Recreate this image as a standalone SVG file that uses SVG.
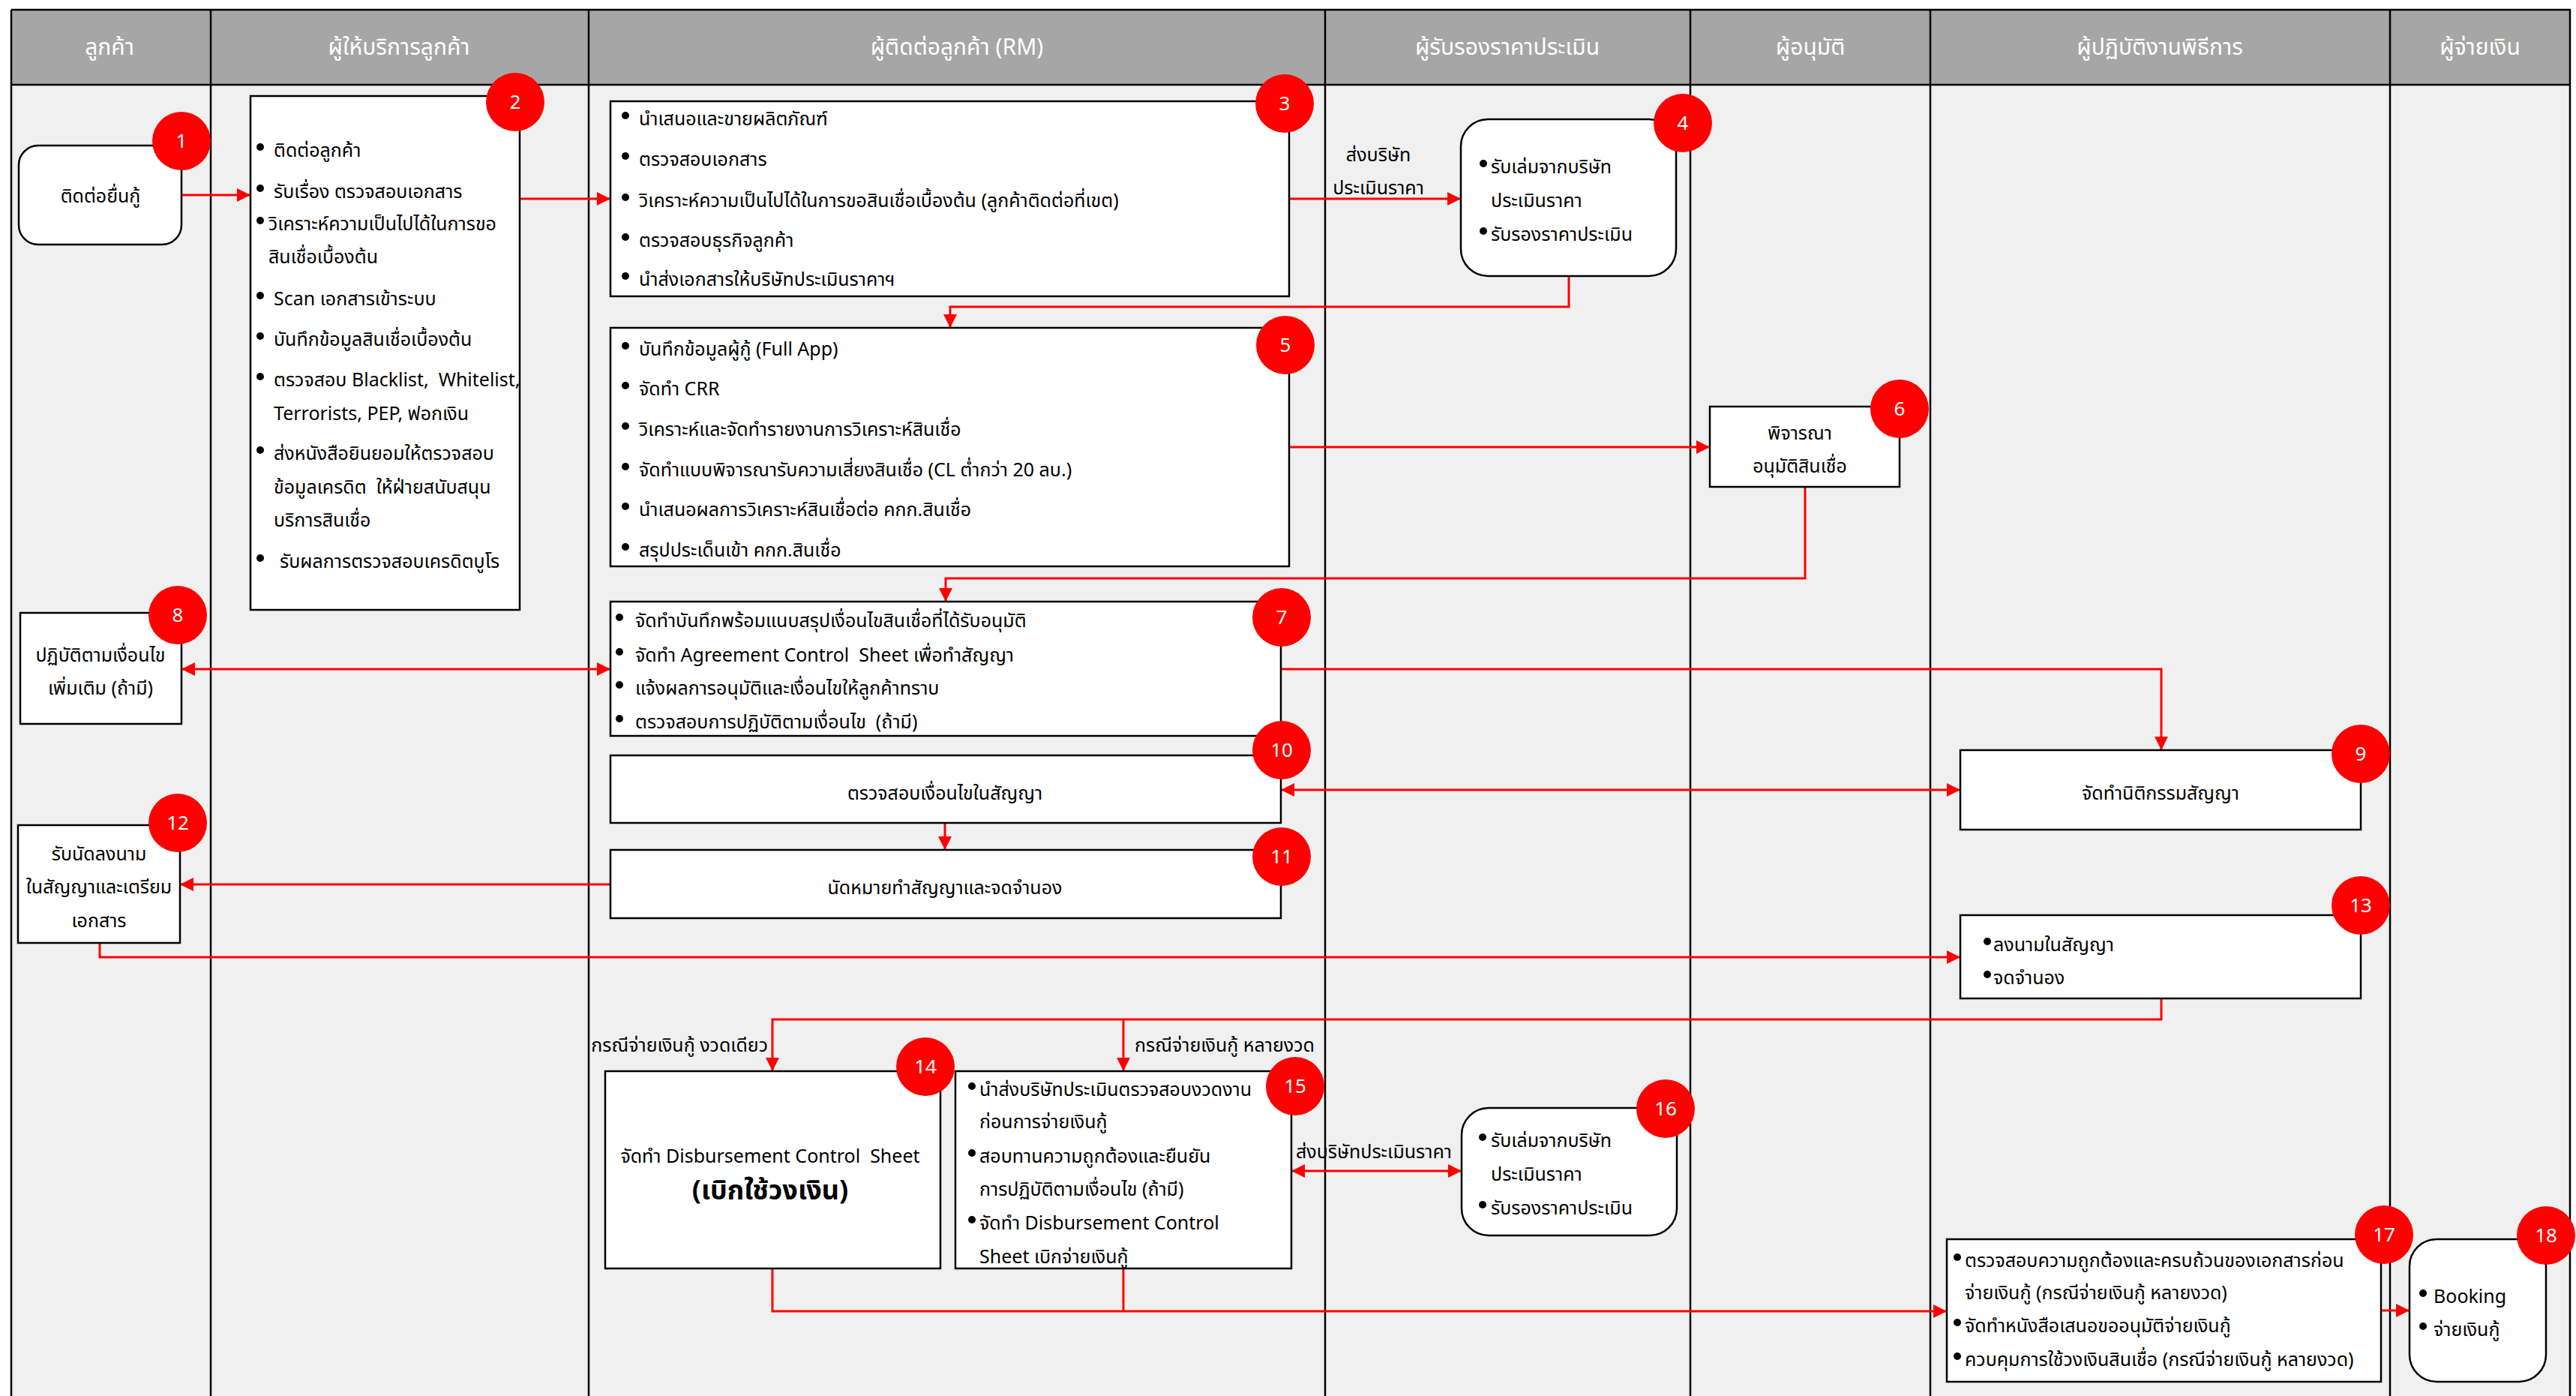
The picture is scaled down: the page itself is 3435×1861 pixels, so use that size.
<svg xmlns="http://www.w3.org/2000/svg" width="3435" height="1861" viewBox="0 0 3435 1861">
<style>
text{font-family:"Noto Sans Thai","Leelawadee UI",Tahoma,"Noto Sans","Liberation Sans",sans-serif;font-size:25px;fill:#000;white-space:pre}
.hd{fill:#fff;font-size:30px;text-anchor:middle}
.c{text-anchor:middle}
.big{font-size:36px;font-weight:bold}
.bn{fill:#fff;font-size:26px;text-anchor:middle}
.box{fill:#fff;stroke:#000;stroke-width:2.5}
.badge{fill:#ff0000}
.lane{stroke:#000;stroke-width:2.5}
.con{fill:none;stroke:#ff0000;stroke-width:3}
.dot{fill:#000}
</style>
<defs>
<marker id="ah" markerUnits="userSpaceOnUse" markerWidth="18" markerHeight="18" viewBox="0 0 18 18" refX="18" refY="9" orient="auto-start-reverse">
<path d="M0,0 L18,9 L0,18 z" fill="#ff0000"/>
</marker>
</defs>
<rect x="0" y="0" width="3435" height="1861" fill="#fff"/>
<g id="lanes">
<rect x="15" y="113" width="3413" height="1760" fill="#f0f0f0"/>
<rect x="15" y="13" width="3413" height="100" fill="#a6a6a6"/>
<line class="lane" x1="15" y1="13" x2="3428" y2="13" stroke-width="4"/>
<line class="lane" x1="15" y1="113" x2="3428" y2="113" stroke-width="4"/>
<line class="lane" x1="15" y1="13" x2="15" y2="1861"/>
<line class="lane" x1="281" y1="13" x2="281" y2="1861"/>
<line class="lane" x1="785" y1="13" x2="785" y2="1861"/>
<line class="lane" x1="1767" y1="13" x2="1767" y2="1861"/>
<line class="lane" x1="2254" y1="13" x2="2254" y2="1861"/>
<line class="lane" x1="2574" y1="13" x2="2574" y2="1861"/>
<line class="lane" x1="3187" y1="13" x2="3187" y2="1861"/>
<line class="lane" x1="3427" y1="13" x2="3427" y2="1861"/>
<text class="hd" x="146" y="73">ลูกค้า</text>
<text class="hd" x="532" y="73">ผู้ให้บริการลูกค้า</text>
<text class="hd" x="1276" y="73">ผู้ติดต่อลูกค้า (RM)</text>
<text class="hd" x="2010" y="73">ผู้รับรองราคาประเมิน</text>
<text class="hd" x="2414" y="73">ผู้อนุมัติ</text>
<text class="hd" x="2880" y="73">ผู้ปฏิบัติงานพิธีการ</text>
<text class="hd" x="3307" y="73">ผู้จ่ายเงิน</text>
</g>
<g id="connectors">
<path class="con" d="M242,260 H334" marker-end="url(#ah)"/>
<path class="con" d="M693,265 H814" marker-end="url(#ah)"/>
<path class="con" d="M1719,265 H1948" marker-end="url(#ah)"/>
<path class="con" d="M2092,368 V409 H1267 V437" marker-end="url(#ah)"/>
<path class="con" d="M1719,596 H2280" marker-end="url(#ah)"/>
<path class="con" d="M2407,649 V771 H1261 V802" marker-end="url(#ah)"/>
<path class="con" d="M242,892 H814" marker-start="url(#ah)" marker-end="url(#ah)"/>
<path class="con" d="M1708,892 H2882 V1000" marker-end="url(#ah)"/>
<path class="con" d="M1708,1053 H2614" marker-start="url(#ah)" marker-end="url(#ah)"/>
<path class="con" d="M1260,1097 V1133" marker-end="url(#ah)"/>
<path class="con" d="M814,1179 H240" marker-end="url(#ah)"/>
<path class="con" d="M133,1257 V1276 H2614" marker-end="url(#ah)"/>
<path class="con" d="M2882,1331 V1359 H1030 V1428" marker-end="url(#ah)"/>
<path class="con" d="M1498,1359 V1428" marker-end="url(#ah)"/>
<path class="con" d="M1722,1561 H1949" marker-start="url(#ah)" marker-end="url(#ah)"/>
<path class="con" d="M1030,1691 V1748 H2596" marker-end="url(#ah)"/>
<path class="con" d="M1498,1691 V1748"/>
<path class="con" d="M3175,1747 H3213" marker-end="url(#ah)"/>
<text x="1838" y="215" class="c">ส่งบริษัท</text>
<text x="1838" y="259" class="c">ประเมินราคา</text>
<text x="1024" y="1402" text-anchor="end">กรณีจ่ายเงินกู้ งวดเดียว</text>
<text x="1513" y="1402">กรณีจ่ายเงินกู้ หลายงวด</text>
<text x="1728" y="1544">ส่งบริษัทประเมินราคา</text>
</g>
<g id="node1">
<rect class="box" x="25" y="194" width="217" height="132" rx="26"/>
<text class="c" x="134" y="270">ติดต่อยื่นกู้</text>
<circle class="badge" cx="242" cy="188" r="39"/><text class="bn" x="242" y="197">1</text>
</g>
<g id="node2">
<rect class="box" x="334" y="128" width="359" height="685"/>
<circle class="dot" cx="347" cy="196" r="5"/><text x="365" y="209">ติดต่อลูกค้า</text>
<circle class="dot" cx="347" cy="251" r="5"/><text x="365" y="264">รับเรื่อง ตรวจสอบเอกสาร</text>
<circle class="dot" cx="347" cy="294" r="5"/><text x="358" y="307">วิเคราะห์ความเป็นไปได้ในการขอ</text>
<text x="358" y="351">สินเชื่อเบื้องต้น</text>
<circle class="dot" cx="347" cy="394" r="5"/><text x="365" y="407">Scan เอกสารเข้าระบบ</text>
<circle class="dot" cx="347" cy="448" r="5"/><text x="365" y="461">บันทึกข้อมูลสินเชื่อเบื้องต้น</text>
<circle class="dot" cx="347" cy="502" r="5"/><text x="365" y="515">ตรวจสอบ Blacklist,  Whitelist,</text>
<text x="365" y="560">Terrorists, PEP, ฟอกเงิน</text>
<circle class="dot" cx="347" cy="600" r="5"/><text x="365" y="613">ส่งหนังสือยินยอมให้ตรวจสอบ</text>
<text x="365" y="658">ข้อมูลเครดิต  ให้ฝ่ายสนับสนุน</text>
<text x="365" y="702">บริการสินเชื่อ</text>
<circle class="dot" cx="347" cy="744" r="5"/><text x="373" y="757">รับผลการตรวจสอบเครดิตบูโร</text>
<circle class="badge" cx="687" cy="136" r="39"/><text class="bn" x="687" y="145">2</text>
</g>
<g id="node3">
<rect class="box" x="814" y="135" width="905" height="260"/>
<circle class="dot" cx="834" cy="154" r="5"/><text x="852" y="167">นำเสนอและขายผลิตภัณฑ์</text>
<circle class="dot" cx="834" cy="208" r="5"/><text x="852" y="221">ตรวจสอบเอกสาร</text>
<circle class="dot" cx="834" cy="263" r="5"/><text x="852" y="276">วิเคราะห์ความเป็นไปได้ในการขอสินเชื่อเบื้องต้น (ลูกค้าติดต่อที่เขต)</text>
<circle class="dot" cx="834" cy="316" r="5"/><text x="852" y="329">ตรวจสอบธุรกิจลูกค้า</text>
<circle class="dot" cx="834" cy="368" r="5"/><text x="852" y="381">นำส่งเอกสารให้บริษัทประเมินราคาฯ</text>
<circle class="badge" cx="1713" cy="138" r="39"/><text class="bn" x="1713" y="147">3</text>
</g>
<g id="node4">
<rect class="box" x="1948" y="159" width="287" height="209" rx="36"/>
<circle class="dot" cx="1978" cy="218" r="5"/><text x="1988" y="231">รับเล่มจากบริษัท</text>
<text x="1988" y="276">ประเมินราคา</text>
<circle class="dot" cx="1978" cy="308" r="5"/><text x="1988" y="321">รับรองราคาประเมิน</text>
<circle class="badge" cx="2244" cy="164" r="39"/><text class="bn" x="2244" y="173">4</text>
</g>
<g id="node5">
<rect class="box" x="814" y="437" width="905" height="318"/>
<circle class="dot" cx="834" cy="461" r="5"/><text x="852" y="474">บันทึกข้อมูลผู้กู้ (Full App)</text>
<circle class="dot" cx="834" cy="514" r="5"/><text x="852" y="527">จัดทำ CRR</text>
<circle class="dot" cx="834" cy="568" r="5"/><text x="852" y="581">วิเคราะห์และจัดทำรายงานการวิเคราะห์สินเชื่อ</text>
<circle class="dot" cx="834" cy="622" r="5"/><text x="852" y="635">จัดทำแบบพิจารณารับความเสี่ยงสินเชื่อ (CL ต่ำกว่า 20 ลบ.)</text>
<circle class="dot" cx="834" cy="675" r="5"/><text x="852" y="688">นำเสนอผลการวิเคราะห์สินเชื่อต่อ คกก.สินเชื่อ</text>
<circle class="dot" cx="834" cy="729" r="5"/><text x="852" y="742">สรุปประเด็นเข้า คกก.สินเชื่อ</text>
<circle class="badge" cx="1714" cy="460" r="39"/><text class="bn" x="1714" y="469">5</text>
</g>
<g id="node6">
<rect class="box" x="2280" y="542" width="253" height="107"/>
<text class="c" x="2400" y="586">พิจารณา</text>
<text class="c" x="2400" y="630">อนุมัติสินเชื่อ</text>
<circle class="badge" cx="2533" cy="545" r="39"/><text class="bn" x="2533" y="554">6</text>
</g>
<g id="node7">
<rect class="box" x="814" y="802" width="894" height="179"/>
<circle class="dot" cx="826" cy="823" r="5"/><text x="847" y="836">จัดทำบันทึกพร้อมแนบสรุปเงื่อนไขสินเชื่อที่ได้รับอนุมัติ</text>
<circle class="dot" cx="826" cy="869" r="5"/><text x="847" y="882">จัดทำ Agreement Control  Sheet เพื่อทำสัญญา</text>
<circle class="dot" cx="826" cy="913" r="5"/><text x="847" y="926">แจ้งผลการอนุมัติและเงื่อนไขให้ลูกค้าทราบ</text>
<circle class="dot" cx="826" cy="958" r="5"/><text x="847" y="971">ตรวจสอบการปฏิบัติตามเงื่อนไข  (ถ้ามี)</text>
<circle class="badge" cx="1709" cy="823" r="39"/><text class="bn" x="1709" y="832">7</text>
</g>
<g id="node8">
<rect class="box" x="27" y="817" width="215" height="148"/>
<text class="c" x="134" y="882">ปฏิบัติตามเงื่อนไข</text>
<text class="c" x="134" y="926">เพิ่มเติม (ถ้ามี)</text>
<circle class="badge" cx="237" cy="820" r="39"/><text class="bn" x="237" y="829">8</text>
</g>
<g id="node9">
<rect class="box" x="2614" y="1000" width="534" height="106"/>
<text class="c" x="2881" y="1066">จัดทำนิติกรรมสัญญา</text>
<circle class="badge" cx="3148" cy="1005" r="39"/><text class="bn" x="3148" y="1014">9</text>
</g>
<g id="node10">
<rect class="box" x="814" y="1007" width="894" height="90"/>
<text class="c" x="1260" y="1066">ตรวจสอบเงื่อนไขในสัญญา</text>
<circle class="badge" cx="1709" cy="1000" r="39"/><text class="bn" x="1709" y="1009">10</text>
</g>
<g id="node11">
<rect class="box" x="814" y="1133" width="894" height="91"/>
<text class="c" x="1260" y="1192">นัดหมายทำสัญญาและจดจำนอง</text>
<circle class="badge" cx="1709" cy="1142" r="39"/><text class="bn" x="1709" y="1151">11</text>
</g>
<g id="node12">
<rect class="box" x="24" y="1100" width="216" height="157"/>
<text class="c" x="132" y="1147">รับนัดลงนาม</text>
<text class="c" x="132" y="1191">ในสัญญาและเตรียม</text>
<text class="c" x="132" y="1236">เอกสาร</text>
<circle class="badge" cx="237" cy="1097" r="39"/><text class="bn" x="237" y="1106">12</text>
</g>
<g id="node13">
<rect class="box" x="2614" y="1220" width="534" height="111"/>
<circle class="dot" cx="2650" cy="1255" r="5"/><text x="2658" y="1268">ลงนามในสัญญา</text>
<circle class="dot" cx="2650" cy="1299" r="5"/><text x="2658" y="1312">จดจำนอง</text>
<circle class="badge" cx="3148" cy="1207" r="39"/><text class="bn" x="3148" y="1216">13</text>
</g>
<g id="node14">
<rect class="box" x="807" y="1428" width="447" height="263"/>
<text class="c" x="1027" y="1550">จัดทำ Disbursement Control  Sheet</text>
<text class="c big" x="1027" y="1599">(เบิกใช้วงเงิน)</text>
<circle class="badge" cx="1234" cy="1422" r="39"/><text class="bn" x="1234" y="1431">14</text>
</g>
<g id="node15">
<rect class="box" x="1274" y="1428" width="448" height="263"/>
<circle class="dot" cx="1296" cy="1448" r="5"/><text x="1306" y="1461">นำส่งบริษัทประเมินตรวจสอบงวดงาน</text>
<text x="1306" y="1504">ก่อนการจ่ายเงินกู้</text>
<circle class="dot" cx="1296" cy="1537" r="5"/><text x="1306" y="1550">สอบทานความถูกต้องและยืนยัน</text>
<text x="1306" y="1594">การปฏิบัติตามเงื่อนไข (ถ้ามี)</text>
<circle class="dot" cx="1296" cy="1626" r="5"/><text x="1306" y="1639">จัดทำ Disbursement Control</text>
<text x="1306" y="1684">Sheet เบิกจ่ายเงินกู้</text>
<circle class="badge" cx="1727" cy="1448" r="39"/><text class="bn" x="1727" y="1457">15</text>
</g>
<g id="node16">
<rect class="box" x="1949" y="1477" width="287" height="170" rx="36"/>
<circle class="dot" cx="1977" cy="1516" r="5"/><text x="1988" y="1529">รับเล่มจากบริษัท</text>
<text x="1988" y="1574">ประเมินราคา</text>
<circle class="dot" cx="1977" cy="1606" r="5"/><text x="1988" y="1619">รับรองราคาประเมิน</text>
<circle class="badge" cx="2221" cy="1478" r="39"/><text class="bn" x="2221" y="1487">16</text>
</g>
<g id="node17">
<rect class="box" x="2596" y="1652" width="579" height="190"/>
<circle class="dot" cx="2610" cy="1676" r="5"/><text x="2620" y="1689">ตรวจสอบความถูกต้องและครบถ้วนของเอกสารก่อน</text>
<text x="2620" y="1732">จ่ายเงินกู้ (กรณีจ่ายเงินกู้ หลายงวด)</text>
<circle class="dot" cx="2610" cy="1763" r="5"/><text x="2620" y="1776">จัดทำหนังสือเสนอขออนุมัติจ่ายเงินกู้</text>
<circle class="dot" cx="2610" cy="1808" r="5"/><text x="2620" y="1821">ควบคุมการใช้วงเงินสินเชื่อ (กรณีจ่ายเงินกู้ หลายงวด)</text>
<circle class="badge" cx="3179" cy="1646" r="39"/><text class="bn" x="3179" y="1655">17</text>
</g>
<g id="node18">
<rect class="box" x="3213" y="1652" width="182" height="190" rx="36"/>
<circle class="dot" cx="3231" cy="1724" r="5"/><text x="3245" y="1737">Booking</text>
<circle class="dot" cx="3231" cy="1768" r="5"/><text x="3245" y="1781">จ่ายเงินกู้</text>
<circle class="badge" cx="3395" cy="1647" r="39"/><text class="bn" x="3395" y="1656">18</text>
</g>
</svg>
